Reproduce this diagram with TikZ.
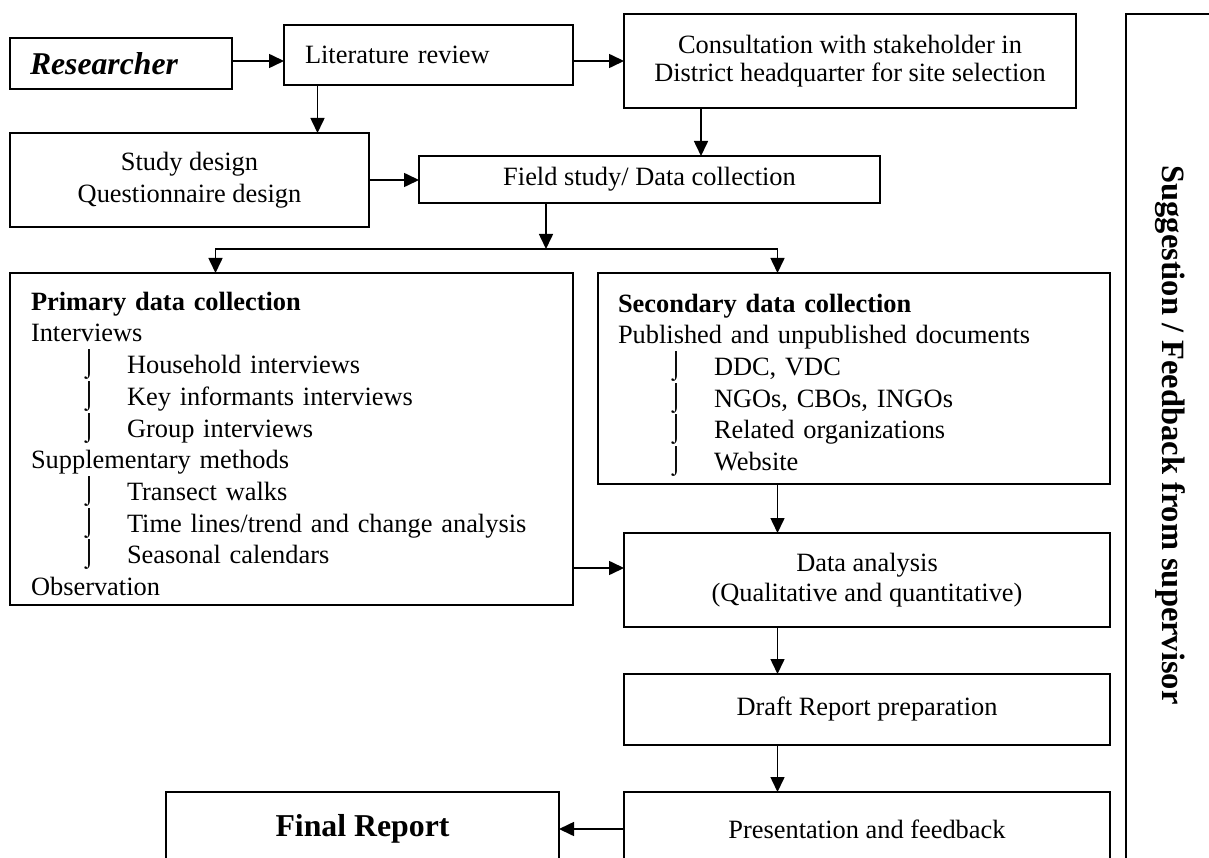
\documentclass[tikz,border=0pt]{standalone}
\usepackage{fontspec}
\setmainfont{Liberation Serif}
\usetikzlibrary{arrows.meta,positioning}

\newcommand{\pitem}[1]{\hspace*{50pt}\makebox[46pt][l]{\smash{\raisebox{2pt}{⌡}}}#1}

\tikzset{
	box/.style={draw, line width=1.6pt, anchor=north west, inner sep=0pt, outer sep=0pt, font=\fontsize{26.4}{32}\selectfont},
	flow/.style={line width=1.6pt, -{Triangle[length=15pt, width=14pt]}},
}

\begin{document}
\begin{tikzpicture}[x=1pt, y=-1pt]
		\useasboundingbox (0, 0) rectangle (1209, 858);
		\clip (0, 0) rectangle (1209, 858);

		% top row
		\node [box, minimum width=222, minimum height=51, align=left, text width=182pt, inner xsep=20pt, font=\fontsize{31.7}{38}\selectfont\bfseries\itshape] (res) at (10, 38) {Researcher};
		\node [box, minimum width=289, minimum height=60, align=left, text width=247pt, inner xsep=21pt] (lit) at (284, 25) {Literature review};
		\node [box, minimum width=452, minimum height=94, align=center, font=\fontsize{26.4}{28}\selectfont] (con) at (624, 14) {Consultation with stakeholder in\\District headquarter for site selection};

		\node [box, minimum width=359, minimum height=94, align=center] (study) at (10, 133) {Study design\\Questionnaire design};
		\node [box, minimum width=461, minimum height=47] (field) at (419, 156) {Field study/ Data collection};

		% data collection
		\node [box, minimum width=563, minimum height=332, align=left, text width=521pt, inner xsep=21pt, font=\fontsize{26.4}{31.7}\selectfont] (prim) at (10, 273) {\rule{0pt}{28pt}\textbf{Primary data collection}\\
			Interviews\\
			\pitem{Household interviews}\\
			\pitem{Key informants interviews}\\
			\pitem{Group interviews}\\
			Supplementary methods\\
			\pitem{Transect walks}\\
			\pitem{Time lines/trend and change analysis}\\
			\pitem{Seasonal calendars}\\
			Observation};
		\node [box, minimum width=512, minimum height=211, align=left, text width=472pt, inner xsep=20pt, font=\fontsize{26.4}{31.6}\selectfont] (sec) at (598, 273) {\rule{0pt}{26pt}\textbf{Secondary data collection}\\
			Published and unpublished documents\\
			\pitem{DDC, VDC}\\
			\pitem{NGOs, CBOs, INGOs}\\
			\pitem{Related organizations}\\
			\pitem{Website}};

		\node [box, minimum width=486, minimum height=94, align=center, font=\fontsize{26.4}{30}\selectfont] (data) at (624, 533) {Data analysis\\(Qualitative and quantitative)};
		\node [box, minimum width=486, minimum height=71] (draft) at (624, 674) {Draft Report preparation};
		\node [box, minimum width=486, minimum height=74] (pres) at (624, 792) {Presentation and feedback};
		\node [box, minimum width=393, minimum height=74, font=\fontsize{31.8}{38}\selectfont\bfseries] (final) at (166, 792) {Final Report};

		% supervisor
		\node [box, minimum width=110, minimum height=860] (sup) at (1126, 14) {};
		\node [rotate=-90, font=\fontsize{32.5}{38}\selectfont\bfseries] (suptext) at (1170, 435) {Suggestion / Feedback from supervisor};

		\coordinate (row) at (0, 61);
		\coordinate (litx) at (317.5, 0);
		\coordinate (conx) at (701, 0);
		\coordinate (split) at (546, 249);
		\coordinate (pl) at (215.5, 249);
		\coordinate (pr) at (777.5, 249);
		\coordinate (row2) at (0, 568);

		\draw [flow] (res.east |- row) -- (lit.west |- row);
		\draw [flow] (lit.east |- row) -- (con.west |- row);
		\draw [flow] (lit.south -| litx) -- (study.north -| litx);
		\draw [flow] (con.south -| conx) -- (field.north -| conx);
		\draw [flow] (study.east) -- (study.east -| field.west);
		\draw [flow] (field.south -| split) -- (split);
		\draw [flow] (pr) -- (pl) -- (prim.north -| pl);
		\draw [flow] (pl) -- (pr) -- (sec.north -| pr);
		\draw [flow] (sec.south -| pr) -- (data.north -| pr);
		\draw [flow] (prim.east |- row2) -- (data.west |- row2);
		\draw [flow] (data.south -| pr) -- (draft.north -| pr);
		\draw [flow] (draft.south -| pr) -- (pres.north -| pr);
		\draw [flow] (pres.west) -- (final.east |- pres.west);

\end{tikzpicture}
\end{document}
